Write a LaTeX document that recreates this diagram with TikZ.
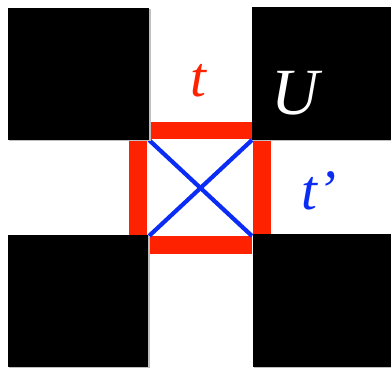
\documentclass[tikz,border=0pt]{standalone}
\usepackage{fontspec}
\setmainfont{Liberation Serif}
\definecolor{redbar}{HTML}{FF2200}
\definecolor{bluel}{HTML}{0A2CF5}
\begin{document}
\begin{tikzpicture}[x=1pt,y=1pt,
  blk/.style={fill=black},
  bar/.style={fill=redbar},
  diag/.style={draw=bluel,line width=4.2pt},
  lbl/.style={inner sep=0pt,anchor=base west,font=\itshape}]
\useasboundingbox (0,0) rectangle (391,367);
% red bars
\fill[bar] (149,228) rectangle (252,245);
\fill[bar] (129,131) rectangle (147,227);
\fill[bar] (253,131) rectangle (271,227);
\fill[bar] (149,113) rectangle (252,131);
% corners
\coordinate (c1) at (149,227);
\coordinate (c2) at (252,227);
\coordinate (c3) at (149,131);
\coordinate (c4) at (252,131);
\draw[diag] (c1) -- (c4);
\draw[diag] (c2) -- (c3);
% shadows
\foreach \a/\b/\c/\d in {8/227/149/359, 252/227/391/360, 8/0/148/132, 253/0/391/133}{
  \fill[black!25] (\a+1,\b-1.5) rectangle (\c+1.5,\d-1);
}
% black squares
\fill[blk] (8,227) rectangle (149,359);
\fill[blk] (252,227) rectangle (391,360);
\fill[blk] (8,0) rectangle (148,132);
\fill[blk] (253,0) rectangle (391,133);
% labels
\node[lbl,text=redbar,font=\itshape\fontsize{57}{57}\selectfont] (t) at (190,270) {t};
\node[lbl,text=white,font=\itshape\fontsize{66}{66}\selectfont] (U) at (271,252) {U};
\node[lbl,text=bluel,font=\itshape\fontsize{57}{57}\selectfont] (tp) at (301,157) {t’};
\end{tikzpicture}
\end{document}
